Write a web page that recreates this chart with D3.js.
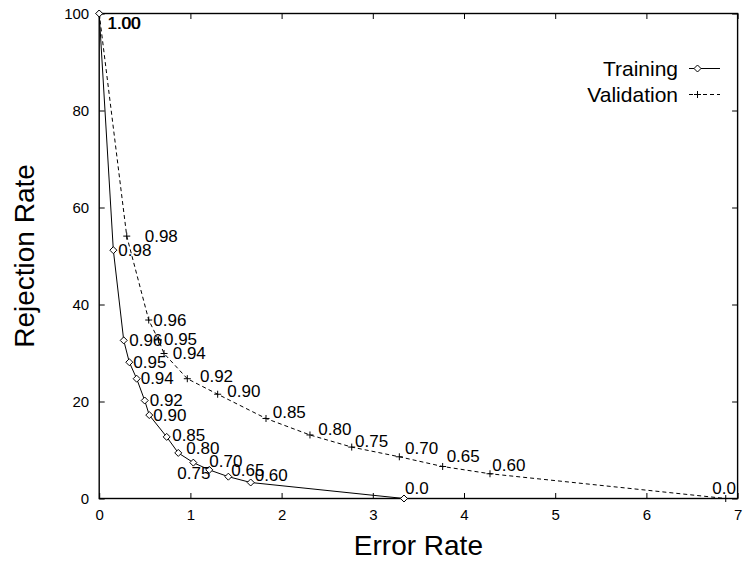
<!DOCTYPE html>
<html>
<head>
<meta charset="utf-8">
<script src="https://cdn.jsdelivr.net/npm/d3@7"></script>
<style>
  html, body { margin: 0; padding: 0; background: #fff; }
  svg { display: block; font-family: "Liberation Sans", Arial, Helvetica, sans-serif; }
</style>
</head>
<body>
<svg id="chart" width="744" height="562"></svg>
<script>
// Rejection threshold at each operating point
const trainThresholds = ["1.00", "0.98", "0.96", "0.95", "0.94", "0.92", "0.90", "0.85", "0.80", "0.75", "0.70", "0.65", "0.60", "0.0"];
const trainError      = [0, 0.155, 0.269, 0.330, 0.411, 0.499, 0.549, 0.740, 0.867, 1.032, 1.207, 1.416, 1.661, 3.342];
const trainRejection  = [100, 51.2, 32.6, 28.1, 24.7, 20.2, 17.2, 12.7, 9.4, 7.4, 5.9, 4.5, 3.3, 0];

const valThresholds = ["1.00", "0.98", "0.96", "0.95", "0.94", "0.92", "0.90", "0.85", "0.80", "0.75", "0.70", "0.65", "0.60", "0.0"];
const valError      = [0, 0.302, 0.543, 0.650, 0.711, 0.966, 1.299, 1.829, 2.311, 2.769, 3.291, 3.766, 4.285, 6.870];
const valRejection  = [100, 54.1, 36.8, 32.7, 29.9, 24.7, 21.5, 16.5, 13.1, 10.6, 8.6, 6.6, 5.1, 0];

const xTicks = [0, 1, 2, 3, 4, 5, 6, 7];
const yTicks = [0, 20, 40, 60, 80, 100];

const seriesNames = ["Training", "Validation"];

// Pixel nudges for the threshold labels, [dx, dy] from each point
const trainLabelShift = [[8, 10], [5, 0], [5.5, 0], [4, 0], [4, 0], [5, 0], [4, 0], [5.5, -1.7], [8, -4], [-16, 11], [0, -8], [3, -6], [4, -7], [1, -10]];
const valLabelShift   = [[8.6, 10.4], [18, 0], [4.6, 0], [5.5, 0], [8.7, 0], [12.7, -2], [9.6, -2.3], [6.7, -5.6], [8.3, -5], [3.3, -5.6], [5.7, -8.4], [4, -10], [2.3, -8], [-13.4, -10]];

const svg = d3.select("#chart");
const plotLeft = 99.2, plotRight = 737.6, plotTop = 13.5, plotBottom = 498.5;

const x = d3.scaleLinear().domain([0, 7]).range([plotLeft, plotRight]);
const y = d3.scaleLinear().domain([0, 100]).range([plotBottom, plotTop]);

const tickLen = 5.5;

// Axes: ticks point inward, mirrored on the opposite side
const axisB = d3.axisBottom(x).tickValues(xTicks).tickFormat(d3.format("d")).tickSizeInner(-tickLen).tickSizeOuter(0).tickPadding(11);
const axisT = d3.axisTop(x).tickValues(xTicks).tickFormat("").tickSizeInner(-tickLen).tickSizeOuter(0);
const axisL = d3.axisLeft(y).tickValues(yTicks).tickFormat(d3.format("d")).tickSizeInner(-tickLen).tickSizeOuter(0).tickPadding(10);
const axisR = d3.axisRight(y).tickValues(yTicks).tickFormat("").tickSizeInner(-tickLen).tickSizeOuter(0);

function styleAxis(g) {
  g.select(".domain").remove();
  g.selectAll(".tick line").attr("stroke", "#000").attr("stroke-width", 1);
  g.selectAll(".tick text").attr("fill", "#000").attr("font-size", 15).attr("font-family", "Liberation Sans, Arial, sans-serif");
}

svg.append("g").attr("transform", `translate(0,${plotBottom})`).call(axisB).call(styleAxis);
svg.append("g").attr("transform", `translate(0,${plotTop})`).call(axisT).call(styleAxis);
svg.append("g").attr("transform", `translate(${plotLeft},0)`).call(axisL).call(styleAxis);
svg.append("g").attr("transform", `translate(${plotRight},0)`).call(axisR).call(styleAxis);

// Frame
svg.append("rect")
  .attr("x", plotLeft).attr("y", plotTop)
  .attr("width", plotRight - plotLeft).attr("height", plotBottom - plotTop)
  .attr("fill", "none").attr("stroke", "#000").attr("stroke-width", 1.4);

// Axis titles
svg.append("text")
  .attr("x", (plotLeft + plotRight) / 2).attr("y", 555)
  .attr("text-anchor", "middle")
  .attr("font-size", 28)
  .text("Error Rate");

svg.append("text")
  .attr("transform", `translate(34,${(plotTop + plotBottom) / 2}) rotate(-90)`)
  .attr("text-anchor", "middle")
  .attr("font-size", 28)
  .text("Rejection Rate");

const trainData = trainThresholds.map((t, i) => ({ t, e: trainError[i], r: trainRejection[i], s: trainLabelShift[i] }));
const valData   = valThresholds.map((t, i) => ({ t, e: valError[i], r: valRejection[i], s: valLabelShift[i] }));

const line = d3.line().x(d => x(d.e)).y(d => y(d.r));

const diamond = (cx, cy, r) => `M${cx},${cy - r}L${cx + r},${cy}L${cx},${cy + r}L${cx - r},${cy}Z`;
const plus = (cx, cy, r) => `M${cx - r},${cy}H${cx + r}M${cx},${cy - r}V${cy + r}`;

// Validation curve (dashed, plus markers)
svg.append("path").datum(valData)
  .attr("d", line)
  .attr("fill", "none").attr("stroke", "#000").attr("stroke-width", 1)
  .attr("stroke-dasharray", "4,3");

svg.append("g").selectAll("path").data(valData).join("path")
  .attr("d", d => plus(x(d.e), y(d.r), 3.5))
  .attr("stroke", "#000").attr("stroke-width", 1).attr("fill", "none");

// Training curve (solid, diamond markers)
svg.append("path").datum(trainData)
  .attr("d", line)
  .attr("fill", "none").attr("stroke", "#000").attr("stroke-width", 1);

svg.append("g").selectAll("path").data(trainData).join("path")
  .attr("d", d => diamond(x(d.e), y(d.r), 3.5))
  .attr("stroke", "#000").attr("stroke-width", 1).attr("fill", "#fff");

// Threshold labels
function drawLabels(data) {
  svg.append("g").selectAll("text").data(data).join("text")
    .attr("x", d => x(d.e) + d.s[0])
    .attr("y", d => y(d.r) + d.s[1])
    .attr("dominant-baseline", "central")
    .attr("font-size", 17)
    .attr("fill", "#000")
    .text(d => d.t);
}
drawLabels(trainData);
drawLabels(valData);

// Legend
const legendTextX = 678, legendLineX0 = 689, legendLineX1 = 720;
const legendRows = [68.5, 94.5];

const lg = svg.append("g");
seriesNames.forEach((name, i) => {
  const ly = legendRows[i];
  lg.append("text")
    .attr("x", legendTextX).attr("y", ly)
    .attr("text-anchor", "end").attr("dominant-baseline", "central")
    .attr("font-size", 21)
    .text(name);
  lg.append("line")
    .attr("x1", legendLineX0).attr("x2", legendLineX1)
    .attr("y1", ly).attr("y2", ly)
    .attr("stroke", "#000").attr("stroke-width", 1)
    .attr("stroke-dasharray", i === 1 ? "4,3" : null);
  const mx = 697.5;
  lg.append("path")
    .attr("d", i === 0 ? diamond(mx, ly, 3.5) : plus(mx, ly, 3.5))
    .attr("stroke", "#000").attr("stroke-width", 1)
    .attr("fill", i === 0 ? "#fff" : "none");
});
</script>
</body>
</html>
